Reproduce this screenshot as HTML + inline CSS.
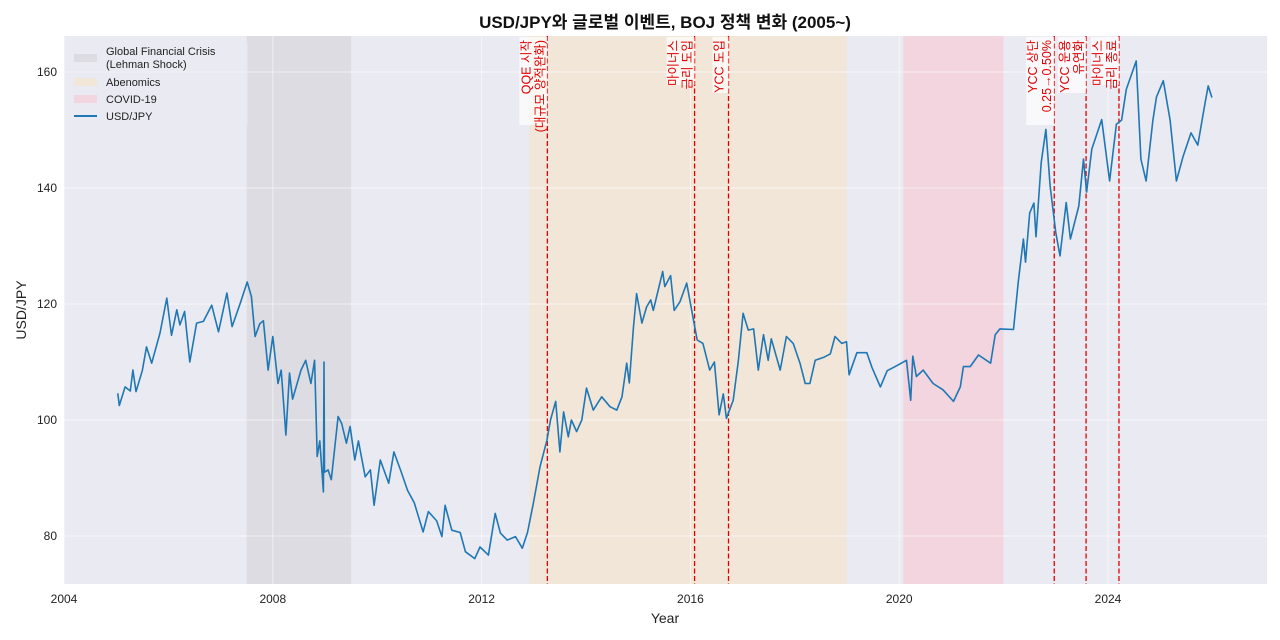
<!DOCTYPE html>
<html><head><meta charset="utf-8"><style>
body{margin:0;background:#fff;}
svg{display:block;font-family:"Liberation Sans","Noto Sans CJK KR",sans-serif;}
</style></head><body>
<svg id="chart" width="1280" height="640" viewBox="0 0 1280 640">
<text x="665" y="28" text-anchor="middle" font-size="17" font-weight="bold" fill="#111">USD/JPY와 글로벌 이벤트, BOJ 정책 변화 (2005~)</text>
<rect x="64" y="36" width="1203" height="548" fill="#eaeaf2"/>
<g id="spans"></g><g id="grid"></g><g id="events"></g><g id="series"></g><g id="labels"></g><g id="axes"></g>
<text x="665" y="623" text-anchor="middle" font-size="14" fill="#222">Year</text>
<text transform="translate(26,310) rotate(-90)" text-anchor="middle" font-size="14" fill="#222">USD/JPY</text>
<g>
<rect x="66" y="40" width="182" height="88" fill="#eaeaf2" opacity="0.5" rx="3"/>
<rect x="74" y="54" width="23" height="8" fill="#dcdce2"/>
<text x="106" y="55" font-size="11" fill="#222">Global Financial Crisis</text>
<text x="106" y="68" font-size="11" fill="#222">(Lehman Shock)</text>
<rect x="74" y="78" width="23" height="8" fill="#f2e6d9"/>
<text x="106" y="86" font-size="11" fill="#222">Abenomics</text>
<rect x="74" y="95" width="23" height="8" fill="#f2d5df"/>
<text x="106" y="103" font-size="11" fill="#222">COVID-19</text>
<line x1="74" y1="116" x2="97" y2="116" stroke="#1f77b4" stroke-width="2"/>
<text x="106" y="120" font-size="11" fill="#222">USD/JPY</text>
</g>
</svg>
<script>
const years=[2005.03,2005.06,2005.17,2005.27,2005.32,2005.38,2005.5,2005.58,2005.68,2005.84,2005.97,2006.06,2006.16,2006.22,2006.31,2006.41,2006.54,2006.67,2006.83,2006.96,2007.12,2007.22,2007.38,2007.51,2007.59,2007.66,2007.75,2007.82,2007.91,2008.0,2008.1,2008.16,2008.25,2008.32,2008.38,2008.54,2008.63,2008.73,2008.8,2008.85,2008.9,2008.97,2008.98,2008.99,2009.06,2009.12,2009.25,2009.32,2009.41,2009.48,2009.57,2009.64,2009.77,2009.87,2009.94,2010.06,2010.22,2010.32,2010.45,2010.58,2010.71,2010.88,2010.98,2011.14,2011.24,2011.3,2011.43,2011.59,2011.69,2011.87,2011.97,2012.13,2012.26,2012.36,2012.49,2012.65,2012.78,2012.88,2012.99,2013.12,2013.25,2013.32,2013.42,2013.5,2013.57,2013.66,2013.72,2013.82,2013.92,2014.01,2014.14,2014.3,2014.46,2014.59,2014.69,2014.78,2014.83,2014.91,2014.97,2015.07,2015.16,2015.24,2015.29,2015.47,2015.51,2015.62,2015.69,2015.8,2015.93,2016.06,2016.13,2016.24,2016.37,2016.46,2016.55,2016.63,2016.69,2016.82,2016.92,2017.01,2017.11,2017.21,2017.3,2017.4,2017.49,2017.55,2017.72,2017.84,2017.97,2018.1,2018.2,2018.29,2018.39,2018.55,2018.68,2018.77,2018.9,2018.99,2019.04,2019.19,2019.38,2019.48,2019.64,2019.77,2019.9,2020.14,2020.22,2020.26,2020.33,2020.46,2020.65,2020.84,2021.04,2021.17,2021.23,2021.36,2021.52,2021.75,2021.84,2021.93,2022.19,2022.28,2022.38,2022.42,2022.5,2022.58,2022.62,2022.72,2022.81,2022.89,2023.0,2023.08,2023.2,2023.28,2023.44,2023.53,2023.59,2023.69,2023.88,2024.03,2024.16,2024.26,2024.35,2024.54,2024.63,2024.73,2024.86,2024.93,2025.06,2025.19,2025.31,2025.44,2025.59,2025.72,2025.86,2025.92,2025.99];
const values=[104.6,102.5,105.7,105,108.6,104.9,108.5,112.6,109.8,115,121,114.6,119,116.4,118.7,110,116.7,117,119.8,115.2,121.9,116.1,120.2,123.8,121.3,114.4,116.6,117.1,108.6,114.4,106.3,108.6,97.4,108.1,103.6,108.6,110.3,106.3,110.3,93.7,96.4,87.6,110,91,91.4,89.7,100.6,99.4,96,98.9,93.1,96.4,90.2,91.4,85.3,93.1,89.1,94.5,91.3,87.9,85.7,80.7,84.2,82.6,79.9,85.3,81,80.6,77.3,76.1,78.1,76.7,83.9,80.5,79.3,79.9,77.9,80.6,85.6,92,96.5,100,103.2,94.5,101.4,97.1,100,98,100,105.5,101.7,104,102.3,101.7,104,109.8,106.4,116.1,121.8,116.7,119.5,120.7,118.9,125.6,123,124.9,118.9,120.4,123.6,117.2,113.8,113.2,108.6,110,100.9,104.5,100.3,103.4,110.3,118.4,115.5,115.7,108.6,114.7,110.3,114,108.6,114.4,113.2,109.8,106.3,106.3,110.3,110.8,111.4,114.4,113.2,113.5,107.8,111.6,111.6,109,105.7,108.5,109.1,110.3,103.4,111,107.5,108.6,106.3,105.2,103.2,105.7,109.2,109.2,111.2,109.8,114.7,115.7,115.6,123.7,131.2,127.2,135.7,137.4,131.6,144.4,150.1,140.4,132.3,128.3,137.5,131.2,136.9,145,139.3,146.7,151.8,141.2,151,151.7,157,161.9,145,141.2,151.7,155.7,158.5,151.7,141.2,145.5,149.5,147.4,154.7,157.6,155.6];
const yTicks=[80,100,120,140,160];
const xTicks=[2004,2008,2012,2016,2020,2024];
const spanStarts=[2007.5,2012.92,2020.08];
const spanEnds=[2009.5,2019.0,2022.0];
const spanNames=['gfc-span','abenomics-span','covid-span'];
const spanColors=['#dcdce2','#f2e6d9','#f2d5df'];
const eventYears=[2013.26,2016.08,2016.73,2022.97,2023.58,2024.21];
const eventLine1=['QQE 시작','마이너스','YCC 도입','YCC 상단','YCC 운용','마이너스'];
const eventLine2=['(대규모 양적완화)','금리 도입','','0.25→0.50%','유연화','금리 종료'];

const NS='http://www.w3.org/2000/svg';
const X=y=>64+(y-2004)*52.2;
const Y=v=>536-(v-80)*5.8;
function mk(tag,attrs,parent){const e=document.createElementNS(NS,tag);for(const k in attrs)e.setAttribute(k,attrs[k]);document.getElementById(parent).appendChild(e);return e;}

spanStarts.forEach((s,i)=>{
 const r=mk('rect',{x:X(s),y:36,width:X(spanEnds[i])-X(s),height:548,fill:spanColors[i]},'spans');
 
 
});
yTicks.forEach(t=>{
 const l=mk('line',{x1:64,x2:1267,y1:Y(t),y2:Y(t),stroke:'#fff',"stroke-opacity":0.55},'grid');
 
 
 const tx=mk('text',{x:57,y:Y(t)+4,"text-anchor":'end',"font-size":12,fill:'#222'},'axes');
 tx.textContent=t;
 
 
});
xTicks.forEach(t=>{
 const l=mk('line',{x1:X(t),x2:X(t),y1:36,y2:584,stroke:'#fff',"stroke-opacity":0.55},'grid');
 
 
 const tx=mk('text',{x:X(t),y:603,"text-anchor":'middle',"font-size":12,fill:'#222'},'axes');
 tx.textContent=t;
 
 
});
eventYears.forEach((ey,i)=>{
 const x=X(ey);
 const l=mk('line',{x1:x,x2:x,y1:36,y2:584,stroke:'#e00000',"stroke-width":1.3,"stroke-dasharray":'5,2.5'},'events');
 
 
 const two=eventLine2[i]!=='';
 const len=Math.max(eventLine1[i].length*8,eventLine2[i].length*8)+8;
 const w=two?28:16;
 const b=mk('rect',{x:x-w,y:37,width:w,height:len,fill:'#fff',"fill-opacity":0.7},'labels');
 
 
 const t1=mk('text',{transform:`translate(${x-(two?17:5)},40) rotate(-90)`,"text-anchor":'end',"font-size":12.5,fill:'#e00000'},'labels');
 t1.textContent=eventLine1[i];
 
 
 if(two){
  const t2=mk('text',{transform:`translate(${x-3},40) rotate(-90)`,"text-anchor":'end',"font-size":12.5,fill:'#e00000'},'labels');
  t2.textContent=eventLine2[i];
  
  
 }
});
const d=years.map((y,i)=>(i?'L':'M')+X(y).toFixed(1)+','+Y(values[i]).toFixed(1)).join('');
const p=mk('path',{d:d,fill:'none',stroke:'#1f77b4',"stroke-width":1.6,"stroke-linejoin":'round'},'series');


</script>
</body></html>
